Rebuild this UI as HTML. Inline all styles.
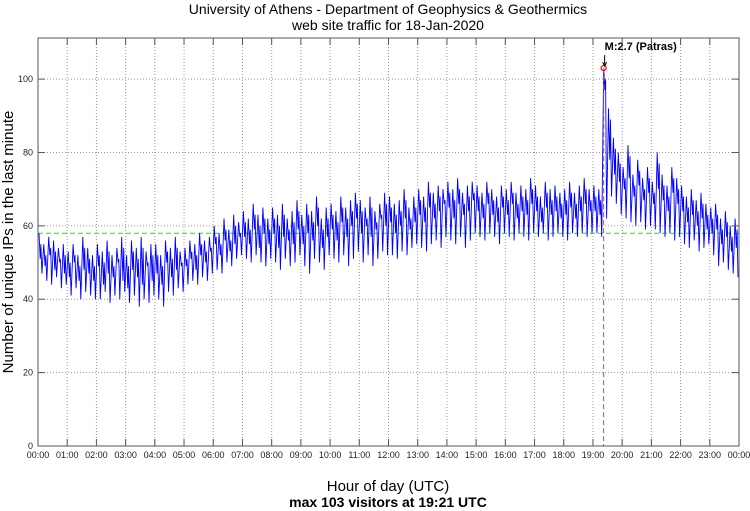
<!DOCTYPE html>
<html><head><meta charset="utf-8"><style>
html,body{margin:0;padding:0;background:#fff;}
svg{display:block;font-family:"Liberation Sans",sans-serif;}
</style></head><body>
<svg id="chart" width="750" height="511" viewBox="0 0 750 511">
<text x="388" y="14" font-size="14" text-anchor="middle">University of Athens - Department of Geophysics &amp; Geothermics</text>
<text x="388" y="30" font-size="14" text-anchor="middle">web site traffic for 18-Jan-2020</text>
<text transform="translate(13,242) rotate(-90)" font-size="15" text-anchor="middle">Number of unique IPs in the last minute</text>
<text x="388" y="491" font-size="15" text-anchor="middle">Hour of day (UTC)</text>
<text x="388" y="507" font-size="14" font-weight="bold" text-anchor="middle">max 103 visitors at 19:21 UTC</text>
<g id="grid"></g>
<g id="series"></g>
<g id="axes"></g>
</svg>
<script>
const hourLabels = ["00:00","01:00","02:00","03:00","04:00","05:00","06:00","07:00","08:00","09:00","10:00","11:00","12:00","13:00","14:00","15:00","16:00","17:00","18:00","19:00","20:00","21:00","22:00","23:00","00:00"];
const yTicks = [0,20,40,60,80,100];
const meanLevel = 58;
const eventLabel = "M:2.7 (Patras)";
// 10-minute bin peaks
const hiVals = [58,55,57,56,54,55, 53,55,52,57,54,52, 55,53,56,52,54,57, 52,56,54,57,53,55,
55,52,56,54,57,53, 54,56,55,58,56,57, 60,58,62,59,63,61, 64,62,66,63,65,62,
65,63,66,62,64,67, 63,66,64,68,62,65, 66,64,68,65,67,69, 67,65,68,64,66,69,
68,66,67,70,65,68, 70,68,72,69,71,70, 72,70,73,69,71,72, 71,69,72,70,68,71,
70,72,69,71,70,73, 71,68,72,70,71,69, 70,72,69,71,73,70, 71,70,103,92,84,80,
76,82,74,78,73,76, 72,80,74,71,76,73, 71,68,70,67,69,66, 65,66,62,64,60,62];
// 10-minute bin intermediate readings
const midVals = [51,49,52,48,50,47, 46,50,45,48,47,45, 49,44,47,46,50,45, 43,48,46,44,49,45,
47,44,50,46,48,49, 49,51,48,52,50,53, 55,52,56,53,55,57, 57,55,59,54,58,55,
58,54,57,56,55,59, 55,58,56,60,54,57, 59,56,61,57,60,62, 58,60,57,59,62,60,
61,58,60,62,59,61, 63,61,65,62,64,66, 65,62,66,63,64,67, 64,62,66,63,61,65,
63,66,62,64,63,66, 64,61,65,63,64,62, 63,65,62,64,66,64, 64,63,97,78,74,72,
70,73,68,71,67,69, 66,70,67,64,69,66, 64,61,63,60,62,59, 58,59,55,57,53,54];
// 10-minute bin troughs
const loVals = [47,45,44,46,43,44, 41,43,40,42,41,40, 40,42,39,41,40,42, 39,41,38,40,39,41,
40,38,42,41,43,42, 44,45,44,46,45,47, 48,47,50,49,51,52, 51,50,52,50,49,51,
50,48,51,49,50,52, 49,47,51,50,48,52, 51,50,52,49,51,53, 50,52,49,51,53,52,
52,51,53,52,54,55, 54,53,55,56,54,57, 56,55,57,54,56,58, 57,56,58,57,55,58,
57,56,58,57,56,58, 57,58,56,57,58,57, 56,58,57,58,57,58, 58,57,62,68,66,63,
62,61,60,61,59,60, 59,58,57,58,56,57, 55,54,56,53,54,55, 52,49,50,48,47,46];

const NS="http://www.w3.org/2000/svg";
const L=38,R=739,T=38,B=446,YMAX=111.2;
const xS=m=>L+m/1440*(R-L);
const yS=v=>B-v/YMAX*(B-T);
function mk(tag,attrs,parent){const e=document.createElementNS(NS,tag);for(const k in attrs)e.setAttribute(k,attrs[k]);parent.appendChild(e);return e;}
const grid=document.getElementById('grid'),series=document.getElementById('series'),axes=document.getElementById('axes');

hourLabels.forEach((lab,i)=>{
  const x=xS(i*60);
  if(i>0&&i<24){const g=mk('line',{x1:x,x2:x,y1:T,y2:B,stroke:'#999','stroke-dasharray':'1,2'},grid);
  
  }
  const t=mk('text',{x:x,y:B+12,'font-size':9,'text-anchor':'middle',fill:'#222'},axes);t.textContent=lab;
  
  
  mk('line',{x1:x,x2:x,y1:B,y2:B-7,stroke:'#555'},axes);
  mk('line',{x1:x,x2:x,y1:T,y2:T+7,stroke:'#555'},axes);
});
yTicks.forEach(v=>{
  const y=yS(v);
  if(v>0){const g=mk('line',{x1:L,x2:R,y1:y,y2:y,stroke:'#999','stroke-dasharray':'1,2'},grid);
  
  }
  const t=mk('text',{x:L-5,y:y+3,'font-size':9,'text-anchor':'end',fill:'#222'},axes);t.textContent=v;
  
  
  mk('line',{x1:L,x2:L+7,y1:y,y2:y,stroke:'#555'},axes);
  mk('line',{x1:R,x2:R-7,y1:y,y2:y,stroke:'#555'},axes);
});
const ml=mk('line',{x1:L,x2:R,y1:yS(meanLevel),y2:yS(meanLevel),stroke:'#22dd22','stroke-dasharray':'5,3','stroke-width':1},grid);



let pts=[];
for(let i=0;i<hiVals.length;i++){
  pts.push(xS(i*10+2).toFixed(1)+','+yS(hiVals[i]).toFixed(1));
  pts.push(xS(i*10+4.5).toFixed(1)+','+yS(midVals[i]).toFixed(1));
  pts.push(xS(i*10+6).toFixed(1)+','+yS(hiVals[i]-3).toFixed(1));
  pts.push(xS(i*10+8).toFixed(1)+','+yS(loVals[i]).toFixed(1));
}
const pl=mk('polyline',{points:pts.join(' '),fill:'none',stroke:'#0000ff','stroke-width':0.9},series);



// max marker
let mi=0;hiVals.forEach((v,i)=>{if(v>hiVals[mi])mi=i;});
const mx=xS(mi*10+2),my=yS(hiVals[mi]);
const vl=mk('line',{x1:mx,x2:mx,y1:my,y2:B,stroke:'#a0507a','stroke-dasharray':'5,3'},series);


const c=mk('circle',{cx:mx,cy:my,r:2.5,fill:'none',stroke:'#ff0000','stroke-width':1.2},series);


mk('line',{x1:mx+1,x2:mx+1,y1:my-13,y2:my-3,stroke:'#000'},series);
mk('path',{d:`M${mx-1},${my-6} L${mx+1},${my-2} L${mx+3},${my-6}`,fill:'none',stroke:'#000'},series);
const el=mk('text',{x:mx+1,y:my-18,'font-size':11,'font-weight':'bold'},series);el.textContent=eventLabel;



const fr=mk('rect',{x:L,y:T,width:R-L,height:B-T,fill:'none',stroke:'#555'},axes);


</script>
</body></html>
